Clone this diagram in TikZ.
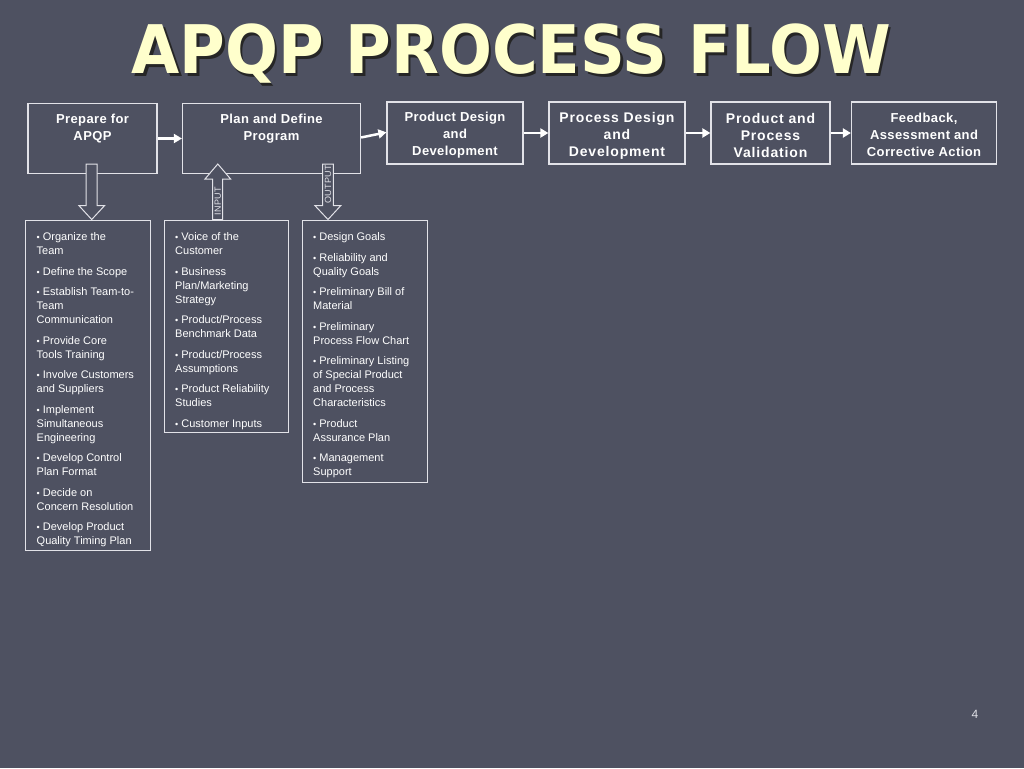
\documentclass[tikz,border=0pt]{standalone}
\usepackage{fontspec}
\setmainfont{Liberation Sans}
\newfontfamily\titlefont{DejaVu Sans}
\usepackage{xcolor}
\usepackage{tikz}
\usetikzlibrary{positioning,arrows.meta}
\definecolor{slate}{HTML}{4E5161}
\definecolor{cream}{HTML}{FFFFCC}
\definecolor{frame}{HTML}{E2E2E8}
\newcommand{\bul}{{\fontsize{9}{9}\selectfont\textbullet}\ }
\newcommand{\shadowed}[1]{\rlap{\hspace{3pt}\raisebox{-3pt}{\color{black!85}#1}}#1}
\tikzstyle{stage box}=[draw=frame, line width=1.2pt, inner sep=0pt]
\tikzstyle{stage text}=[inner sep=0pt, text=white, align=center, font=\bfseries\fontsize{13}{17}\selectfont\addfontfeature{LetterSpace=3}]
\tikzstyle{wide stage}=[font=\bfseries\fontsize{14}{17}\selectfont\addfontfeature{LetterSpace=6}]
\tikzstyle{list box}=[draw=frame, line width=1pt, inner sep=0pt, anchor=north west]
\tikzstyle{list text}=[inner sep=0pt, text=white, align=left, font=\fontsize{11}{14}\selectfont]
\tikzstyle{flow edge}=[draw=white, line width=2.5pt, -{Triangle[length=8pt, width=9pt]}]
\tikzstyle{hollow arrow}=[draw=frame, fill=slate, line width=1pt, line join=miter]
\tikzstyle{shaft label}=[inner sep=0pt, rotate=90, text=frame, font=\fontsize{9}{9}\selectfont\addfontfeature{LetterSpace=4}]
\pgfdeclarelayer{boxlayer}
\pgfdeclarelayer{arrowlayer}
\pgfsetlayers{main,boxlayer,arrowlayer}

\begin{document}
\begin{tikzpicture}[x=1pt, y=-1pt]
	\useasboundingbox[fill=slate] (0,0) rectangle (1024,768);
	\node [anchor=base, text=cream, font=\titlefont\bfseries\fontsize{67}{67}\selectfont] (1) at (511,74) {\scalebox{0.93}[1]{\shadowed{APQP PROCESS FLOW}}};
	\begin{pgfonlayer}{boxlayer}
		\node [style=stage box, minimum width=129, minimum height=70] (2) at (92.5,138.5) {};
		\node [style=stage box, minimum width=178, minimum height=70] (3) at (271.5,138.5) {};
		\node [style=stage box, minimum width=136, minimum height=62] (4) at (455,133) {};
		\node [style=stage box, minimum width=136, minimum height=62] (5) at (617,133) {};
		\node [style=stage box, minimum width=119, minimum height=62] (6) at (770.5,133) {};
		\node [style=stage box, minimum width=145, minimum height=62] (7) at (924,133) {};
		\node [style=stage text, below=11pt of 2.north] (8) {Prepare for\\APQP};
		\node [style=stage text, below=11pt of 3.north] (9) {Plan and Define\\Program};
		\node [style=stage text] (19) at ([yshift=-2.5pt]4.center) {Product Design\\and\\Development};
		\node [style=stage text, style=wide stage] (20) at ([yshift=-2.5pt]5.center) {Process Design\\and\\Development};
		\node [style=stage text, style=wide stage] (21) at ([yshift=-2.5pt]6.center) {Product and\\Process\\Validation};
		\node [style=stage text] (22) at ([yshift=-2pt]7.center) {Feedback,\\Assessment and\\Corrective Action};
		\node [style=list box, minimum width=125, minimum height=330] (10) at (25,220) {};
		\node [style=list box, minimum width=124, minimum height=212] (11) at (163.5,220) {};
		\node [style=list box, minimum width=125, minimum height=262] (12) at (301.5,220) {};
		\node [style=list text, below right=12.5pt and 11.5pt of 10.north west] (13) {\bul Organize the\\Team\\[6.5pt]\bul Define the Scope\\[6.5pt]\bul Establish Team-to-\\Team\\Communication\\[6.5pt]\bul Provide Core\\Tools Training\\[6.5pt]\bul Involve Customers\\and Suppliers\\[6.5pt]\bul Implement\\Simultaneous\\Engineering\\[6.5pt]\bul Develop Control\\Plan Format\\[6.5pt]\bul Decide on\\Concern Resolution\\[6.5pt]\bul Develop Product\\Quality Timing Plan};
		\node [style=list text, below right=12.5pt and 11.5pt of 11.north west] (14) {\bul Voice of the\\Customer\\[6.5pt]\bul Business\\Plan/Marketing\\Strategy\\[6.5pt]\bul Product/Process\\Benchmark Data\\[6.5pt]\bul Product/Process\\Assumptions\\[6.5pt]\bul Product Reliability\\Studies\\[6.5pt]\bul Customer Inputs};
		\node [style=list text, below right=12.5pt and 11.5pt of 12.north west] (15) {\bul Design Goals\\[6.5pt]\bul Reliability and\\Quality Goals\\[6.5pt]\bul Preliminary Bill of\\Material\\[6.5pt]\bul Preliminary\\Process Flow Chart\\[6.5pt]\bul Preliminary Listing\\of Special Product\\and Process\\Characteristics\\[6.5pt]\bul Product\\Assurance Plan\\[6.5pt]\bul Management\\Support};
		\node [text=frame, font=\fontsize{12}{12}\selectfont] (16) at (975,714) {4};
	\end{pgfonlayer}
	\begin{pgfonlayer}{arrowlayer}
		\draw [style=flow edge] (2) to (3);
		\draw [style=flow edge] ([yshift=1pt]3.east) to ([yshift=0.7pt]4.west);
		\draw [style=flow edge] (4) to (5);
		\draw [style=flow edge] (5) to (6);
		\draw [style=flow edge] (6) to (7);
		% block arrows under the first two stages
		\draw [style=hollow arrow] (86,164) -- (86,205.7) -- (79,205.7) -- (91.7,219.5) -- (104.5,205.7) -- (97,205.7) -- (97,164) -- cycle;
		\draw [style=hollow arrow] (212.7,219.5) -- (212.7,179) -- (205,179) -- (217.8,164) -- (230.6,179) -- (222.7,179) -- (222.7,219.5) -- cycle;
		\draw [style=hollow arrow] (322.7,164) -- (322.7,205.7) -- (315,205.7) -- (328,219.5) -- (340.7,205.7) -- (333.3,205.7) -- (333.3,164) -- cycle;
		\node [style=shaft label] (17) at (217.8,201) {INPUT};
		\node [style=shaft label] (18) at (328,184.5) {OUTPUT};
	\end{pgfonlayer}
\end{tikzpicture}
\end{document}
